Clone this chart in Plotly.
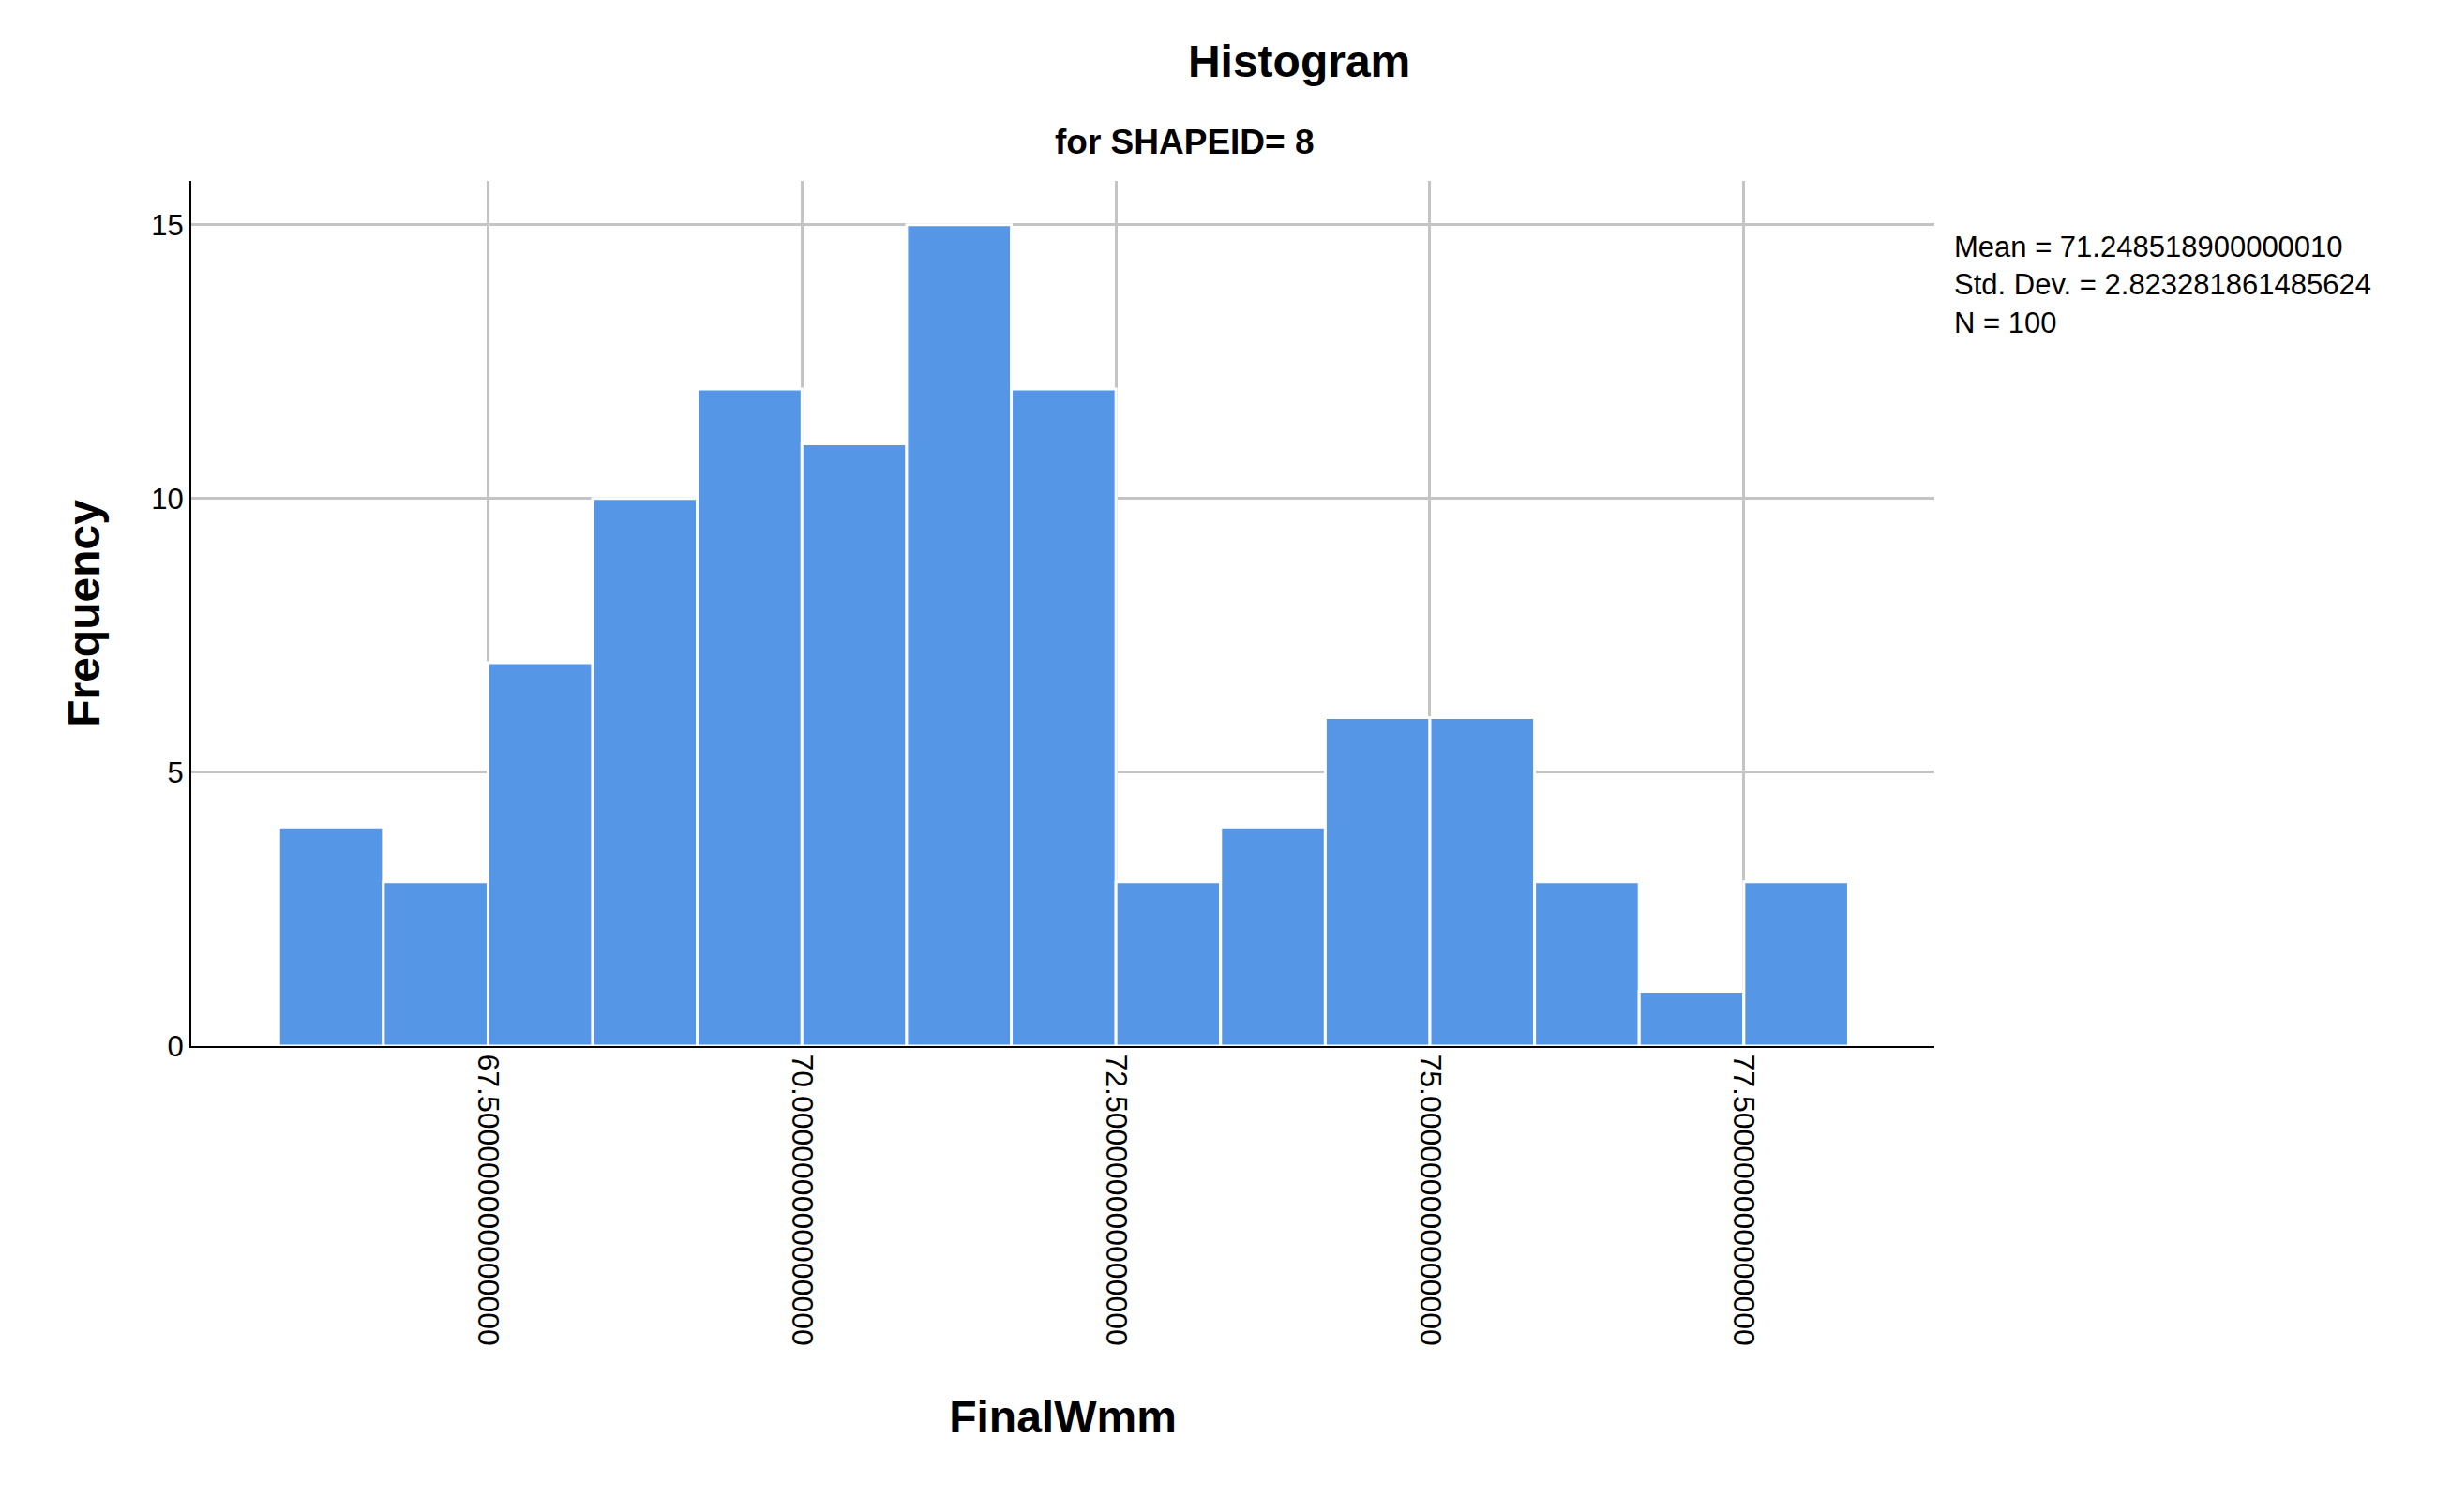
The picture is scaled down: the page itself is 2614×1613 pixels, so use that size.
import plotly.graph_objects as go

bin_start = 65.8333333
bin_width = 0.8333333
counts = [4, 3, 7, 10, 12, 11, 15, 12, 3, 4, 6, 6, 3, 1, 3]
tick_vals = [67.5, 70.0, 72.5, 75.0, 77.5]
tick_text = ["67.500000000000000", "70.000000000000000", "72.500000000000000",
             "75.000000000000000", "77.500000000000000"]
stats_text = "Mean = 71.248518900000010<br>Std. Dev. = 2.823281861485624<br>N = 100"

centers = [bin_start + bin_width * (i + 0.5) for i in range(len(counts))]

fig = go.Figure(go.Bar(x=centers, y=counts, width=bin_width,
                       marker=dict(color="#5596E6", line=dict(color="white", width=3))))
font = "Liberation Sans, Arial"
fig.update_layout(
    width=2614, height=1613, plot_bgcolor="white", paper_bgcolor="white",
    margin=dict(l=196, r=559, t=185, b=505), showlegend=False,
    font=dict(family=font, color="black"),
    title=dict(text="<b>Histogram</b>", x=0.527, xanchor="center", y=0.975, yanchor="top",
               font=dict(size=48)),
    annotations=[
        dict(text="<b>for SHAPEID= 8</b>", x=0.57, xref="paper", y=1.045, yref="paper",
             xanchor="center", yanchor="middle", showarrow=False, font=dict(size=37)),
        dict(text=stats_text, x=1.01, xref="paper", y=0.945, yref="paper", xanchor="left",
             yanchor="top", showarrow=False, align="left", font=dict(size=31)),
    ],
    xaxis=dict(range=[65.137, 79.017], tickvals=tick_vals, ticktext=tick_text, tickangle=90,
               tickfont=dict(size=32), showgrid=True, gridcolor="#c4c4c4", gridwidth=3,
               showline=True, linecolor="black", linewidth=2, ticks="", zeroline=False,
               title=dict(text="<b>FinalWmm</b>", font=dict(size=48), standoff=60)),
    yaxis=dict(range=[0, 15.8], tickvals=[0, 5, 10, 15], tickfont=dict(size=31),
               showgrid=True, gridcolor="#c4c4c4", gridwidth=3, showline=True,
               linecolor="black", linewidth=2, ticks="", zeroline=False,
               title=dict(text="<b>Frequency</b>", font=dict(size=48), standoff=40)),
)
fig.write_html("out.html")
